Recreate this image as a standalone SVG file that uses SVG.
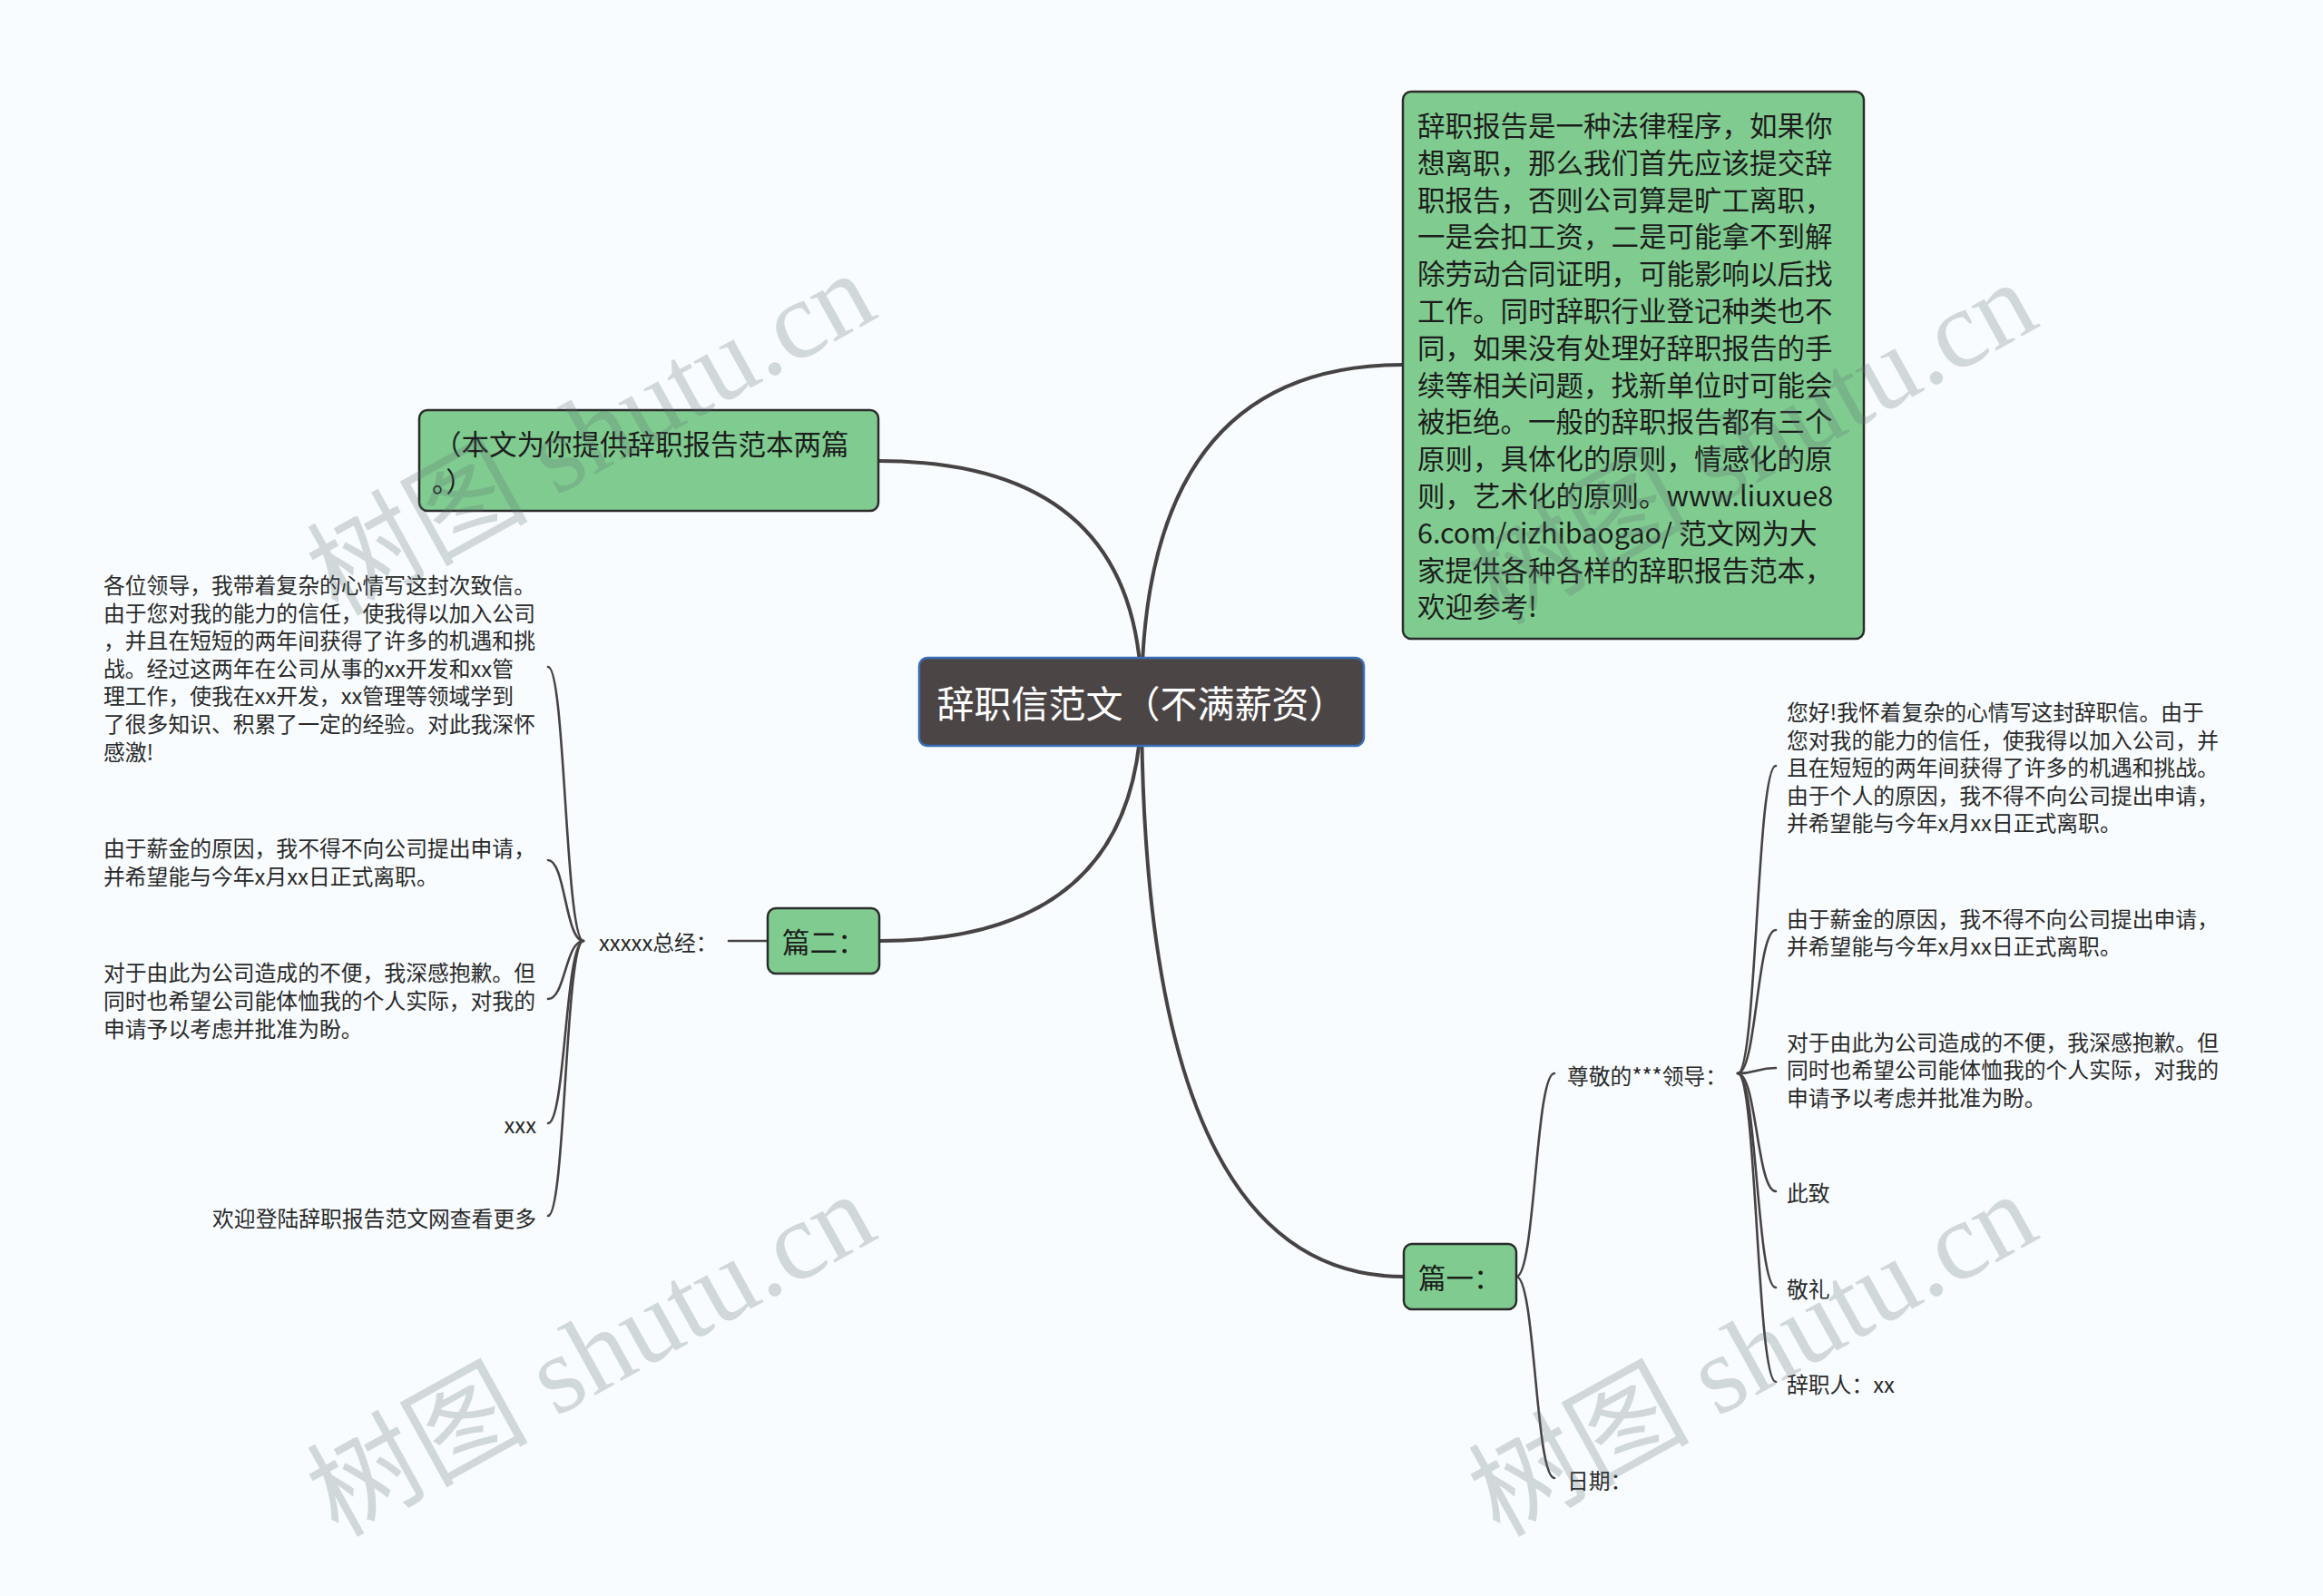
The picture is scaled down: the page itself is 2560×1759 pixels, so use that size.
<svg xmlns="http://www.w3.org/2000/svg" width="2560" height="1759" viewBox="0 0 2560 1759">
<style>
.bg{fill:#f8fcfe}
.box{fill:#80cc90;stroke:#2b2b2b;stroke-width:2.5}
.root{fill:#4b4546;stroke:#3a6db8;stroke-width:2.5}
.t{font-family:"Noto Sans CJK SC","Noto Sans",sans-serif;dominant-baseline:central}
.bt{font-size:30.5px;fill:#1c1c1c}
.rt{font-size:41px;fill:#ffffff}
.lt{font-size:23.8px;fill:#2a2a2a}
.c{fill:none;stroke:#474344;stroke-linecap:round}
.cm{stroke-width:4}
.cs{stroke-width:2.6}
.wm{font-family:"Liberation Serif","Noto Sans CJK SC",serif;font-size:122px;fill:#5a6a70;fill-opacity:0.25}
</style>
<rect class="bg" x="0" y="0" width="2560" height="1759"/>
<g id="connectors">
<path class="c cm" d="M1258,772 Q1258,402 1546,402"/>
<path class="c cm" d="M1258,772 Q1258,508 968,508"/>
<path class="c cm" d="M1258,772 Q1258,1037 969,1037"/>
<path class="c cm" d="M1258,772 Q1258,1407 1547,1407"/>
<path class="c cs" d="M846,1037 L803,1037"/>
<path class="c cs" d="M643,1037 C623,1037 623,735 604,735"/>
<path class="c cs" d="M643,1037 C623,1037 623,948 604,948"/>
<path class="c cs" d="M643,1037 C623,1037 623,1101 604,1101"/>
<path class="c cs" d="M643,1037 C623,1037 623,1238 604,1238"/>
<path class="c cs" d="M643,1037 C623,1037 623,1340 604,1340"/>
<path class="c cs" d="M1671,1407 C1692,1407 1692,1183 1713,1183"/>
<path class="c cs" d="M1671,1407 C1692,1407 1692,1629 1713,1629"/>
<path class="c cs" d="M1915,1183 C1936,1183 1936,844 1957,844"/>
<path class="c cs" d="M1915,1183 C1936,1183 1936,1025 1957,1025"/>
<path class="c cs" d="M1915,1183 C1936,1183 1936,1177 1957,1177"/>
<path class="c cs" d="M1915,1183 C1936,1183 1936,1313 1957,1313"/>
<path class="c cs" d="M1915,1183 C1936,1183 1936,1419 1957,1419"/>
<path class="c cs" d="M1915,1183 C1936,1183 1936,1523 1957,1523"/>
</g>
<g id="root">
<rect class="root" x="1013" y="725" width="490" height="97" rx="9"/>
<text class="t rt" x="1258" y="773" text-anchor="middle">辞职信范文（不满薪资）</text>
</g>
<g id="intro">
<rect class="box" x="1546" y="101" width="508" height="603" rx="9"/>
<text class="t bt">
<tspan x="1562" y="137">辞职报告是一种法律程序，如果你</tspan>
<tspan x="1562" y="178">想离职，那么我们首先应该提交辞</tspan>
<tspan x="1562" y="219">职报告，否则公司算是旷工离职，</tspan>
<tspan x="1562" y="259">一是会扣工资，二是可能拿不到解</tspan>
<tspan x="1562" y="300">除劳动合同证明，可能影响以后找</tspan>
<tspan x="1562" y="341">工作。同时辞职行业登记种类也不</tspan>
<tspan x="1562" y="382">同，如果没有处理好辞职报告的手</tspan>
<tspan x="1562" y="423">续等相关问题，找新单位时可能会</tspan>
<tspan x="1562" y="463">被拒绝。一般的辞职报告都有三个</tspan>
<tspan x="1562" y="504">原则，具体化的原则，情感化的原</tspan>
<tspan x="1562" y="545">则，艺术化的原则。www.liuxue8</tspan>
<tspan x="1562" y="586">6.com/cizhibaogao/ 范文网为大</tspan>
<tspan x="1562" y="627">家提供各种各样的辞职报告范本，</tspan>
<tspan x="1562" y="667">欢迎参考!</tspan>
</text>
</g>
<g id="note">
<rect class="box" x="462" y="452" width="506" height="111" rx="9"/>
<text class="t bt">
<tspan x="478" y="488">（本文为你提供辞职报告范本两篇</tspan>
<tspan x="476" y="529">。）</tspan>
</text>
</g>
<g id="pian2">
<rect class="box" x="846" y="1001" width="123" height="72" rx="9"/>
<text class="t bt" x="862" y="1037">篇二：</text>
</g>
<g id="zongjing">
<text class="t lt" x="660" y="1037">xxxxx总经：</text>
</g>
<g id="l1">
<text class="t lt">
<tspan x="114" y="643">各位领导，我带着复杂的心情写这封次致信。</tspan>
<tspan x="114" y="674">由于您对我的能力的信任，使我得以加入公司</tspan>
<tspan x="114" y="704">，并且在短短的两年间获得了许多的机遇和挑</tspan>
<tspan x="114" y="735">战。经过这两年在公司从事的xx开发和xx管</tspan>
<tspan x="114" y="765">理工作，使我在xx开发，xx管理等领域学到</tspan>
<tspan x="114" y="796">了很多知识、积累了一定的经验。对此我深怀</tspan>
<tspan x="114" y="827">感激!</tspan>
</text>
</g>
<g id="l2">
<text class="t lt">
<tspan x="114" y="933">由于薪金的原因，我不得不向公司提出申请，</tspan>
<tspan x="114" y="964">并希望能与今年x月xx日正式离职。</tspan>
</text>
</g>
<g id="l3">
<text class="t lt">
<tspan x="114" y="1070">对于由此为公司造成的不便，我深感抱歉。但</tspan>
<tspan x="114" y="1101">同时也希望公司能体恤我的个人实际，对我的</tspan>
<tspan x="114" y="1132">申请予以考虑并批准为盼。</tspan>
</text>
</g>
<g id="l4"><text class="t lt" x="591" y="1238" text-anchor="end">xxx</text></g>
<g id="l5"><text class="t lt" x="591" y="1341" text-anchor="end">欢迎登陆辞职报告范文网查看更多</text></g>
<g id="pian1">
<rect class="box" x="1547" y="1371" width="124" height="72" rx="9"/>
<text class="t bt" x="1563" y="1407">篇一：</text>
</g>
<g id="zunjing"><text class="t lt" x="1727" y="1184">尊敬的***领导：</text></g>
<g id="riqi"><text class="t lt" x="1727" y="1630">日期：</text></g>
<g id="r1">
<text class="t lt">
<tspan x="1969" y="783">您好!我怀着复杂的心情写这封辞职信。由于</tspan>
<tspan x="1969" y="814">您对我的能力的信任，使我得以加入公司，并</tspan>
<tspan x="1969" y="844">且在短短的两年间获得了许多的机遇和挑战。</tspan>
<tspan x="1969" y="875">由于个人的原因，我不得不向公司提出申请，</tspan>
<tspan x="1969" y="905">并希望能与今年x月xx日正式离职。</tspan>
</text>
</g>
<g id="r2">
<text class="t lt">
<tspan x="1969" y="1011">由于薪金的原因，我不得不向公司提出申请，</tspan>
<tspan x="1969" y="1041">并希望能与今年x月xx日正式离职。</tspan>
</text>
</g>
<g id="r3">
<text class="t lt">
<tspan x="1969" y="1147">对于由此为公司造成的不便，我深感抱歉。但</tspan>
<tspan x="1969" y="1177">同时也希望公司能体恤我的个人实际，对我的</tspan>
<tspan x="1969" y="1208">申请予以考虑并批准为盼。</tspan>
</text>
</g>
<g id="r4"><text class="t lt" x="1969" y="1313">此致</text></g>
<g id="r5"><text class="t lt" x="1969" y="1419">敬礼</text></g>
<g id="r6"><text class="t lt" x="1969" y="1524">辞职人：xx</text></g>
<g id="watermarks">
<text class="wm" transform="translate(372,680) rotate(-29)">树图 shutu.cn</text>
<text class="wm" transform="translate(1652,690) rotate(-29)">树图 shutu.cn</text>
<text class="wm" transform="translate(372,1695) rotate(-29)">树图 shutu.cn</text>
<text class="wm" transform="translate(1652,1695) rotate(-29)">树图 shutu.cn</text>
</g>
</svg>
